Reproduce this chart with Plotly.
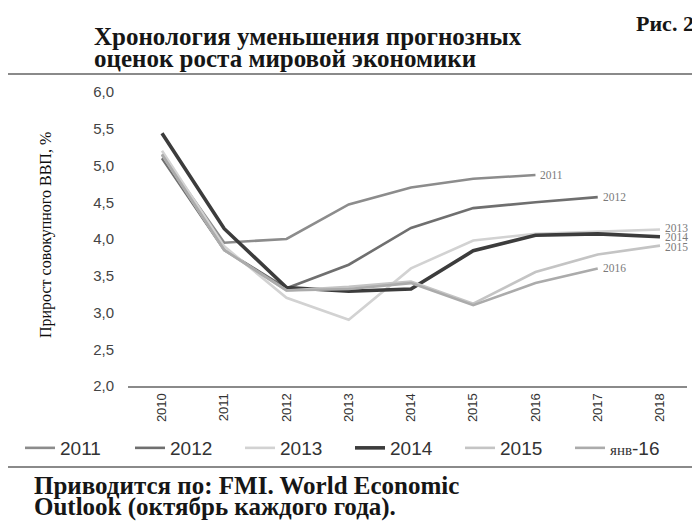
import plotly.graph_objects as go

years = [2010, 2011, 2012, 2013, 2014, 2015, 2016, 2017, 2018]
tick_labels = [str(y) for y in years]

series_names = ["2011", "2012", "2013", "2014", "2015", "янв-16"]
end_labels = ["2011", "2012", "2013", "2014", "2015", "2016"]

v2011 = [5.15, 3.95, 4.00, 4.47, 4.70, 4.82, 4.87]
v2012 = [5.10, 3.85, 3.33, 3.65, 4.15, 4.42, 4.50, 4.57]
v2013 = [5.20, 3.90, 3.20, 2.90, 3.60, 3.98, 4.07, 4.10, 4.13]
v2014 = [5.44, 4.14, 3.34, 3.29, 3.32, 3.84, 4.05, 4.07, 4.03]
v2015 = [5.15, 3.85, 3.30, 3.35, 3.42, 3.12, 3.55, 3.79, 3.91]
vjan16 = [5.15, 3.85, 3.30, 3.32, 3.40, 3.10, 3.40, 3.60]

all_values = [v2011, v2012, v2013, v2014, v2015, vjan16]
colors = ["#8c8c8c", "#6f6f6f", "#d2d2d2", "#3c3c3c", "#c4c4c4", "#ababab"]
widths = [2.6, 2.6, 2.6, 3.6, 2.6, 2.6]
label_yshift = [0, 0, 1, 0, -1, 0]

SERIF = "Liberation Serif"
SANS = "Liberation Sans"

# The page places the figure 8px from the top-left corner (body margin),
# so the figure is drawn 8px smaller and all page positions are shifted.
OFF = 8
W, H = 700 - OFF, 524 - OFF
# plot area in page pixels: left 128, right 687, top 92, bottom 386
L, T = 128 - OFF, 92 - OFF
R = W - (687 - OFF)
B = H - (386 - OFF)
PW, PH = W - L - R, H - T - B


def px(x):
    return (x - OFF - L) / PW


def py(y):
    return (H - B - (y - OFF)) / PH


fig = go.Figure()
legend_names = ["2011", "2012", "2013", "2014", "2015",
                "<span style='font-family:Liberation Serif;font-size:15px'>янв</span>-16"]
for lname, vals, c, w in zip(legend_names, all_values, colors, widths):
    xs = years[:len(vals)]
    fig.add_trace(go.Scatter(x=xs, y=vals, mode="lines", name=lname,
                             line=dict(color=c, width=w)))

annotations = []
for lab, vals, ys in zip(end_labels, all_values, label_yshift):
    annotations.append(dict(x=years[len(vals) - 1], y=vals[-1], xref="x", yref="y",
                            text=lab, showarrow=False, xanchor="left", yanchor="middle",
                            xshift=3, yshift=ys,
                            font=dict(family=SERIF, size=11.5, color="#7a7a7a")))

DARK = "#161616"
annotations += [
    dict(x=px(92), y=py(36), xref="paper", yref="paper", xanchor="left", yanchor="middle",
         showarrow=False, text="<b>Хронология уменьшения прогнозных</b>",
         font=dict(family=SERIF, size=25, color=DARK)),
    dict(x=px(92), y=py(59), xref="paper", yref="paper", xanchor="left", yanchor="middle",
         showarrow=False, text="<b>оценок роста мировой экономики</b>",
         font=dict(family=SERIF, size=25, color=DARK)),
    dict(x=px(696), y=py(24), xref="paper", yref="paper", xanchor="right", yanchor="middle",
         showarrow=False, text="<b>Рис. 2</b>",
         font=dict(family=SERIF, size=22, color=DARK)),
    dict(x=px(46), y=py(235), xref="paper", yref="paper", xanchor="center", yanchor="middle",
         showarrow=False, textangle=-90, text="Прирост совокупного ВВП, %",
         font=dict(family=SERIF, size=16, color="#0d0d0d")),
    dict(x=px(32), y=py(485), xref="paper", yref="paper", xanchor="left", yanchor="middle",
         showarrow=False, text="<b>Приводится по: FMI. World Economic</b>",
         font=dict(family=SERIF, size=25, color=DARK)),
    dict(x=px(32), y=py(507), xref="paper", yref="paper", xanchor="left", yanchor="middle",
         showarrow=False, text="<b>Outlook (октябрь каждого года).</b>",
         font=dict(family=SERIF, size=25, color=DARK)),
]

shapes = [
    dict(type="line", xref="paper", yref="paper", x0=px(5), x1=px(695), y0=py(74), y1=py(74),
         line=dict(color="#8a8a8a", width=2)),
    dict(type="line", xref="paper", yref="paper", x0=px(5), x1=px(697), y0=py(467), y1=py(467),
         line=dict(color="#8a8a8a", width=2)),
]

fig.update_layout(
    width=W, height=H,
    margin=dict(l=L, r=R, t=T, b=B, autoexpand=False),
    paper_bgcolor="white", plot_bgcolor="white",
    separators=", ",
    showlegend=True,
    legend=dict(orientation="h", x=px(20), y=py(448), xanchor="left", yanchor="middle",
                font=dict(family=SANS, size=19, color="#333333"),
                entrywidth=65, entrywidthmode="pixels", bgcolor="rgba(0,0,0,0)"),
    annotations=annotations,
    shapes=shapes,
    font=dict(family=SANS, color="#333333"),
)
fig.update_xaxes(range=[2009.454, 2018.434], tickvals=years, ticktext=tick_labels,
                 tickangle=-90, showgrid=False, zeroline=False, showline=True,
                 linecolor="#8a8a8a", linewidth=2, ticks="",
                 tickfont=dict(family=SANS, size=13, color="#333333"))
fig.update_yaxes(range=[2, 6], dtick=0.5, tickformat=".1f", showgrid=False, zeroline=False,
                 showline=False, ticks="", ticklabelstandoff=13,
                 tickfont=dict(family=SANS, size=15, color="#444444"))

fig.write_html("out.html")
